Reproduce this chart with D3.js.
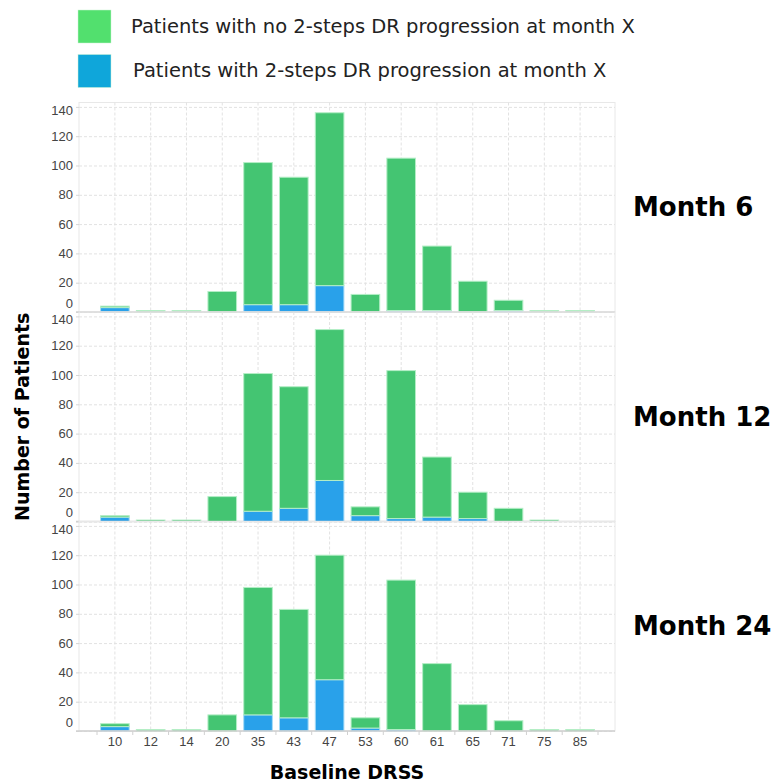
<!DOCTYPE html>
<html>
<head>
<meta charset="utf-8">
<script src="https://cdn.jsdelivr.net/npm/d3@7"></script>
<style>
    body { margin: 0; background: #fff; }
    svg { display: block; }
</style>
</head>
<body>
<div id="chart"></div>
<script>
(function() {
    const categories = ["10", "12", "14", "20", "35", "43", "47", "53", "60", "61", "65", "71", "75", "85"];
    const months = ["Month 6", "Month 12", "Month 24"];

    // patients with 2-steps DR progression (blue, bottom of stack)
    const progM6 = [3, 0, 0, 0, 5, 5, 18, 0, 1, 1, 0, 1, 0, 0];
    const progM12 = [3, 0, 0, 0, 7, 9, 28, 4, 2, 3, 2, 0, 0, 0];
    const progM24 = [3, 0, 0, 0, 11, 9, 35, 2, 1, 0, 0, 0, 0, 0];

    // patients with no 2-steps DR progression (green, top of stack)
    const noProgM6 = [1, 1, 1, 14, 97, 87, 118, 12, 104, 44, 21, 7, 1, 1];
    const noProgM12 = [1, 1, 1, 17, 94, 83, 103, 6, 101, 41, 18, 9, 1, 0];
    const noProgM24 = [2, 1, 1, 11, 87, 74, 85, 7, 102, 46, 18, 7, 1, 1];

    const yTicks = [0, 20, 40, 60, 80, 100, 120, 140];
    const legendLabels = [
        "Patients with no 2-steps DR progression at month X",
        "Patients with 2-steps DR progression at month X"
    ];

    const progSeries = [progM6, progM12, progM24];
    const noProgSeries = [noProgM6, noProgM12, noProgM24];

    const width = 773;
    const height = 784;
    const left = 79, right = 615;
    const top0 = 102.5, panelH = 209.5;

    const green = "#44c572", greenStroke = "#b4eec6";
    const blue = "#29a1ea", blueStroke = "#a6dbf7";

    const svg = d3.select("#chart")
        .append("svg")
        .attr("width", width)
        .attr("height", height);

    const x = d3.scaleBand()
        .domain(categories)
        .range([97, 598])
        .paddingInner(0.2)
        .paddingOuter(0.1);

    const y = d3.scaleLinear()
        .domain([0, 143])
        .range([panelH, 0]);

    months.forEach((m, p) => {
        const g = svg.append("g")
            .attr("transform", `translate(0, ${top0 + p * panelH})`);

        // frame
        g.append("rect")
            .attr("x", left)
            .attr("y", 0)
            .attr("width", right - left)
            .attr("height", panelH)
            .attr("fill", "none")
            .attr("stroke", "#e8e8e8");

        // horizontal grid
        g.selectAll(".hgrid")
            .data(yTicks)
            .enter().append("line")
            .attr("x1", left)
            .attr("x2", right)
            .attr("y1", d => y(d) + 0.5)
            .attr("y2", d => y(d) + 0.5)
            .attr("stroke", "#e2e2e2")
            .attr("stroke-dasharray", "3,2");

        // vertical grid at category centres
        g.selectAll(".vgrid")
            .data(categories)
            .enter().append("line")
            .attr("x1", d => x(d) + x.bandwidth() / 2)
            .attr("x2", d => x(d) + x.bandwidth() / 2)
            .attr("y1", 0)
            .attr("y2", panelH)
            .attr("stroke", "#e2e2e2")
            .attr("stroke-dasharray", "3,2");

        // small y ticks
        g.selectAll(".ytick")
            .data(yTicks)
            .enter().append("line")
            .attr("x1", left - 3)
            .attr("x2", left)
            .attr("y1", d => y(d) + 0.5)
            .attr("y2", d => y(d) + 0.5)
            .attr("stroke", "#d6d6d6");

        // y labels, kept inside the panel
        g.selectAll(".ylabel")
            .data(yTicks)
            .enter().append("text")
            .attr("x", 73)
            .attr("y", d => Math.max(7.5, Math.min(panelH - 9, y(d))))
            .attr("dy", "0.35em")
            .attr("text-anchor", "end")
            .style("font-family", "'Liberation Sans', Arial, sans-serif")
            .style("font-size", "13px")
            .style("fill", "#444")
            .text(d => d);

        const rows = categories.map((c, i) => ({
            cat: c,
            prog: progSeries[p][i],
            noProg: noProgSeries[p][i]
        }));

        // blue part
        g.selectAll(".bar-prog")
            .data(rows.filter(d => d.prog > 0))
            .enter().append("rect")
            .attr("x", d => x(d.cat))
            .attr("y", d => y(d.prog))
            .attr("width", x.bandwidth())
            .attr("height", d => y(0) - y(d.prog))
            .attr("fill", blue)
            .attr("stroke", blueStroke)
            .attr("stroke-width", 1);

        // green part stacked on top
        g.selectAll(".bar-noprog")
            .data(rows.filter(d => d.noProg > 0))
            .enter().append("rect")
            .attr("x", d => x(d.cat))
            .attr("y", d => y(d.prog + d.noProg))
            .attr("width", x.bandwidth())
            .attr("height", d => y(d.prog) - y(d.prog + d.noProg))
            .attr("fill", green)
            .attr("stroke", greenStroke)
            .attr("stroke-width", 1);

        // bottom axis line
        g.append("line")
            .attr("x1", left - 3)
            .attr("x2", right)
            .attr("y1", panelH)
            .attr("y2", panelH)
            .attr("stroke", "#d0d0d0")
            .attr("stroke-width", 1.5);

        // month label
        g.append("text")
            .attr("x", 633)
            .attr("y", panelH / 2)
            .attr("dy", "0.35em")
            .style("font-family", "'DejaVu Sans', sans-serif")
            .style("font-weight", "bold")
            .style("font-size", "26px")
            .style("fill", "#000")
            .text(m);
    });

    const bottom = top0 + 3 * panelH;

    // x ticks at band edges
    const edges = categories.map(c => x(c) - x.step() * x.paddingInner() / 2)
        .concat([x(categories[categories.length - 1]) + x.bandwidth() + x.step() * x.paddingInner() / 2]);
    svg.selectAll(".xtick")
        .data(edges)
        .enter().append("line")
        .attr("x1", d => d)
        .attr("x2", d => d)
        .attr("y1", bottom)
        .attr("y2", bottom + 4)
        .attr("stroke", "#d0d0d0");

    svg.selectAll(".xlabel")
        .data(categories)
        .enter().append("text")
        .attr("x", d => x(d) + x.bandwidth() / 2)
        .attr("y", bottom + 15)
        .attr("text-anchor", "middle")
        .style("font-family", "'Liberation Sans', Arial, sans-serif")
        .style("font-size", "13px")
        .style("fill", "#444")
        .text(d => d);

    // axis titles
    svg.append("text")
        .attr("x", 347)
        .attr("y", 779)
        .attr("text-anchor", "middle")
        .style("font-family", "'DejaVu Sans', sans-serif")
        .style("font-weight", "bold")
        .style("font-size", "19px")
        .text("Baseline DRSS");

    svg.append("text")
        .attr("transform", `translate(29, ${top0 + 1.5 * panelH}) rotate(-90)`)
        .attr("text-anchor", "middle")
        .style("font-family", "'DejaVu Sans', sans-serif")
        .style("font-weight", "bold")
        .style("font-size", "19px")
        .text("Number of Patients");

    // legend
    const legendColors = ["#52e06e", "#0fa6da"];
    const legend = svg.selectAll(".legend-item")
        .data(legendLabels)
        .enter().append("g")
        .attr("class", "legend-item")
        .attr("transform", (d, i) => `translate(78, ${10 + i * 44.5})`);

    legend.append("rect")
        .attr("width", 33)
        .attr("height", 33)
        .attr("fill", (d, i) => legendColors[i])
        .attr("stroke", "#c9f2d4")
        .attr("stroke-width", 0.5);

    legend.append("text")
        .attr("x", (d, i) => 53 + i * 2)
        .attr("y", 16)
        .attr("dy", "0.35em")
        .style("font-family", "'DejaVu Sans', sans-serif")
        .style("font-size", "19.5px")
        .style("fill", "#222")
        .text(d => d);
})();
</script>
</body>
</html>
